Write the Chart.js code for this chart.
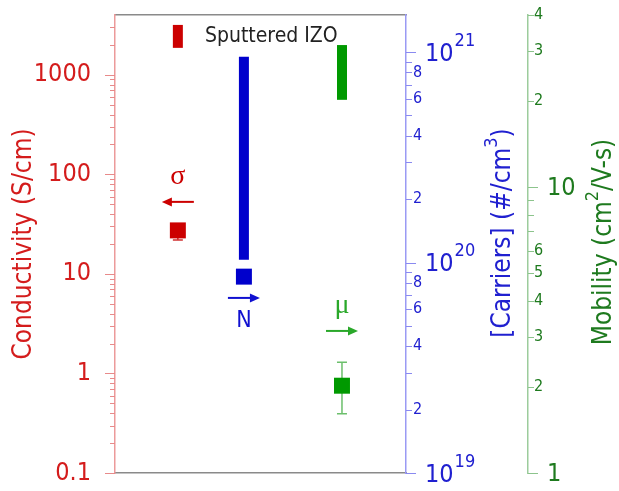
<!DOCTYPE html>
<html>
<head>
<meta charset="utf-8">
<script src="https://cdn.jsdelivr.net/npm/chart.js@4.4.1/dist/chart.umd.min.js"></script>
<style>
    html, body { margin: 0; padding: 0; background: #fff; }
    canvas { display: block; }
</style>
</head>
<body>
<canvas id="izo-chart" width="619" height="491"></canvas>
<script>
// Sputtered IZO: conductivity (S/cm), carriers (#/cm3), mobility (cm2/V-s)
const quantities = ["σ", "N", "μ"];
const rangeLow = [1870, 1.03e20, 20.2];
const rangeHigh = [3180, 9.5e20, 31.4];
const pointValues = [27.4, 8.57e19, 2.02];
const errLow = [22, null, 1.61];
const errHigh = [30, null, 2.44];

// Tick values and labels
const condTicks = [0.1, 0.2, 0.3, 0.4, 0.5, 0.6, 0.7, 0.8, 0.9, 1, 2, 3, 4, 5, 6, 7, 8, 9,
    10, 20, 30, 40, 50, 60, 70, 80, 90, 100, 200, 300, 400, 500, 600, 700, 800, 900, 1000, 2000, 3000];
const condMajor = [0.1, 1, 10, 100, 1000];
const condLabels = ["0.1", "1", "10", "100", "1000"];

const carrierTicks = [1e19, 2e19, 3e19, 4e19, 5e19, 6e19, 7e19, 8e19, 9e19,
    1e20, 2e20, 3e20, 4e20, 5e20, 6e20, 7e20, 8e20, 9e20, 1e21];
const carrierMajor = [1e19, 1e20, 1e21];
const carrierExponents = ["19", "20", "21"];
const carrierMinorLabelled = [2, 4, 6, 8];

const mobilityTicks = [1, 2, 3, 4, 5, 6, 7, 8, 9, 10, 20, 30, 40];
const mobilityMajor = [1, 10];
const mobilityMajorLabels = ["1", "10"];
const mobilityMinorValues = [2, 3, 4, 5, 6, 20, 30, 40];
const mobilityMinorLabels = ["2", "3", "4", "5", "6", "2", "3", "4"];

// Layout / style
const columnX = [0.216, 0.443, 0.78];
const axisIds = ["y", "y2", "y3"];
const fills = ["#cc0000", "#0000cc", "#009900"];
const SANS = '"DejaVu Sans Condensed", "DejaVu Sans", sans-serif';
const SERIF = '"Liberation Serif", "DejaVu Serif", serif';
const textRed = "#d41c1c", textBlue = "#2020d0", textGreen = "#1e7a1e";

const datasets = [];
quantities.forEach((q, i) => {
    datasets.push({
        type: "line",
        label: q + " range",
        data: [{ x: columnX[i], y: rangeLow[i] }, { x: columnX[i], y: rangeHigh[i] }],
        yAxisID: axisIds[i],
        borderColor: fills[i],
        borderWidth: 10,
        borderCapStyle: "butt",
        pointRadius: 0
    });
    datasets.push({
        type: "scatter",
        label: q,
        data: [{ x: columnX[i], y: pointValues[i] }],
        yAxisID: axisIds[i],
        pointStyle: "rect",
        pointRadius: 11.3,
        backgroundColor: fills[i],
        borderWidth: 0
    });
});

function tickList(values, majors) {
    return values.map(v => ({ value: v, major: majors.includes(v) }));
}

function fixWidth(w) {
    return function (scale) {
        scale.width = w;
        scale.paddingTop = 0;
        scale.paddingBottom = 0;
    };
}

const flatAxis = (pos) => ({
    type: "linear", position: pos, min: 0, max: 1, display: true,
    grid: { display: false, drawTicks: false },
    ticks: { display: false },
    border: { color: "#8a8a8a", width: 1.5 }
});

// Tick marks, big labels, right titles, error bars and notes
const decorations = {
    id: "decorations",
    beforeDatasetsDraw(chart) {
        const ctx = chart.ctx;
        const xs = chart.scales.x;
        ctx.save();
        quantities.forEach((q, i) => {
            if (errLow[i] == null) return;
            const ys = chart.scales[axisIds[i]];
            const x = xs.getPixelForValue(columnX[i]);
            const y0 = ys.getPixelForValue(errLow[i]);
            const y1 = ys.getPixelForValue(errHigh[i]);
            ctx.strokeStyle = i === 2 ? "#6cbf6c" : "#d03030";
            ctx.lineWidth = 1.5;
            ctx.beginPath();
            ctx.moveTo(x, y0); ctx.lineTo(x, y1);
            ctx.moveTo(x - 5, y0); ctx.lineTo(x + 5, y0);
            ctx.moveTo(x - 5, y1); ctx.lineTo(x + 5, y1);
            ctx.stroke();
        });
        ctx.restore();
    },
    afterDraw(chart) {
        const ctx = chart.ctx;
        const { x: xs, y: yc, y2: yn, y3: ym } = chart.scales;
        ctx.save();

        // tick marks
        const marks = (scale, values, majors, side, majorLen, minorLen, color) => {
            ctx.strokeStyle = color;
            ctx.lineWidth = 1;
            values.forEach(v => {
                const y = Math.round(scale.getPixelForValue(v)) + 0.5;
                const len = majors.includes(v) ? majorLen : minorLen;
                const x0 = side === "left" ? scale.right : scale.left;
                ctx.beginPath();
                ctx.moveTo(x0, y);
                ctx.lineTo(side === "left" ? x0 - len : x0 + len, y);
                ctx.stroke();
            });
        };
        marks(yc, condTicks, condMajor, "left", 10, 5, "#e88a8a");
        marks(yn, carrierTicks, carrierMajor, "right", 10, 6, "#8a8af0");
        marks(ym, mobilityTicks, mobilityMajor, "right", 10, 6, "#8cc48c");

        // 10^n labels on the carrier axis
        ctx.textBaseline = "middle";
        ctx.textAlign = "left";
        carrierMajor.forEach((v, i) => {
            const y = yn.getPixelForValue(v);
            const x = yn.left + 19;
            ctx.fillStyle = textBlue;
            ctx.font = "25px " + SANS;
            ctx.fillText("10", x, y + 2);
            const w = ctx.measureText("10").width;
            ctx.font = "18px " + SANS;
            ctx.fillText(carrierExponents[i], x + w + 1, y - 11);
        });
        // 1 and 10 on the mobility axis
        mobilityMajor.forEach((v, i) => {
            ctx.fillStyle = textGreen;
            ctx.font = "25px " + SANS;
            ctx.fillText(mobilityMajorLabels[i], ym.left + 19, ym.getPixelForValue(v) + 1);
        });

        // rotated titles with superscripts
        const vTitle = (parts, cx, cy, color) => {
            ctx.save();
            ctx.translate(cx, cy);
            ctx.rotate(-Math.PI / 2);
            ctx.fillStyle = color;
            ctx.textBaseline = "middle";
            ctx.textAlign = "left";
            let total = 0;
            parts.forEach(p => { ctx.font = p.size + "px " + SANS; total += ctx.measureText(p.t).width; });
            let x = -total / 2;
            parts.forEach(p => {
                ctx.font = p.size + "px " + SANS;
                ctx.fillText(p.t, x, p.dy || 0);
                x += ctx.measureText(p.t).width;
            });
            ctx.restore();
        };
        vTitle([{ t: "[Carriers] (#/cm", size: 26 }, { t: "3", size: 18, dy: -11 }, { t: ")", size: 26 }],
            503, 233, textBlue);
        vTitle([{ t: "Mobility (cm", size: 26 }, { t: "2", size: 18, dy: -11 }, { t: "/V-s)", size: 26 }],
            604, 242, textGreen);

        // sample label
        ctx.fillStyle = "#222";
        ctx.font = "21px " + SANS;
        ctx.textBaseline = "alphabetic";
        ctx.fillText("Sputtered IZO", xs.getPixelForValue(0.309), yc.getPixelForValue(2150));

        // axis pointers: symbol plus arrow toward its axis
        const notes = [
            { scale: yc, label: 94, arrow: 53, dir: -1, font: "28px " + SERIF, color: "#cc0000" },
            { scale: yn, label: 5.28e19, arrow: 6.79e19, dir: 1, font: "23px " + SANS, color: "#1010d0" },
            { scale: ym, label: 3.84, arrow: 3.14, dir: 1, font: "28px " + SERIF, color: "#2aa82a" }
        ];
        notes.forEach((n, i) => {
            const cx = xs.getPixelForValue(columnX[i]);
            ctx.fillStyle = n.color;
            ctx.strokeStyle = n.color;
            ctx.font = n.font;
            ctx.textAlign = "center";
            ctx.textBaseline = "middle";
            ctx.fillText(quantities[i], cx, n.scale.getPixelForValue(n.label));
            const ay = n.scale.getPixelForValue(n.arrow);
            const tip = cx + 16 * n.dir;
            const tail = cx - 16 * n.dir;
            ctx.lineWidth = 2;
            ctx.beginPath();
            ctx.moveTo(tail, ay);
            ctx.lineTo(tip - 8 * n.dir, ay);
            ctx.stroke();
            ctx.beginPath();
            ctx.moveTo(tip, ay);
            ctx.lineTo(tip - 10 * n.dir, ay - 4.5);
            ctx.lineTo(tip - 10 * n.dir, ay + 4.5);
            ctx.closePath();
            ctx.fill();
        });
        ctx.restore();
    }
};

new Chart(document.getElementById("izo-chart"), {
    data: { datasets: datasets },
    options: {
        responsive: false,
        animation: false,
        events: [],
        layout: { padding: { top: 15, bottom: 18, left: 0, right: 0 } },
        plugins: { legend: { display: false }, tooltip: { enabled: false } },
        scales: {
            x: flatAxis("bottom"),
            xTop: flatAxis("top"),
            y: {
                type: "logarithmic", position: "left", min: 0.1, max: 4000,
                afterBuildTicks: s => { s.ticks = tickList(condTicks, condMajor); },
                afterFit: fixWidth(115),
                grid: { display: false, drawTicks: false },
                border: { color: "#ec9a9a", width: 1.5 },
                ticks: {
                    autoSkip: false, padding: 24, color: textRed,
                    font: { family: SANS, size: 25 },
                    callback: v => { const k = condMajor.indexOf(v); return k >= 0 ? condLabels[k] : ""; }
                },
                title: {
                    display: true, text: "Conductivity (S/cm)", color: textRed,
                    font: { family: SANS, size: 26 }, padding: { top: 9, bottom: 0 }
                }
            },
            y2: {
                type: "logarithmic", position: "right", weight: 0, min: 1e19, max: 1.5e21,
                afterBuildTicks: s => { s.ticks = tickList(carrierTicks, carrierMajor); },
                afterFit: fixWidth(122),
                grid: { display: false, drawTicks: false },
                border: { color: "#9a9af4", width: 1.5 },
                ticks: {
                    autoSkip: false, padding: 7, color: textBlue,
                    font: { family: SANS, size: 16 },
                    callback: v => {
                        const e = Math.floor(Math.log10(v) + 1e-9);
                        const m = Math.round(v / Math.pow(10, e));
                        return carrierMinorLabelled.includes(m) ? String(m) : "";
                    }
                }
            },
            y3: {
                type: "logarithmic", position: "right", weight: 1, min: 1, max: 40,
                afterBuildTicks: s => { s.ticks = tickList(mobilityTicks, mobilityMajor); },
                afterFit: fixWidth(91),
                grid: { display: false, drawTicks: false },
                border: { color: "#9ccc9c", width: 1.5 },
                ticks: {
                    autoSkip: false, padding: 6, color: textGreen,
                    font: { family: SANS, size: 16 },
                    callback: v => { const k = mobilityMinorValues.indexOf(v); return k >= 0 ? mobilityMinorLabels[k] : ""; }
                }
            }
        }
    },
    plugins: [decorations]
});
</script>
</body>
</html>
